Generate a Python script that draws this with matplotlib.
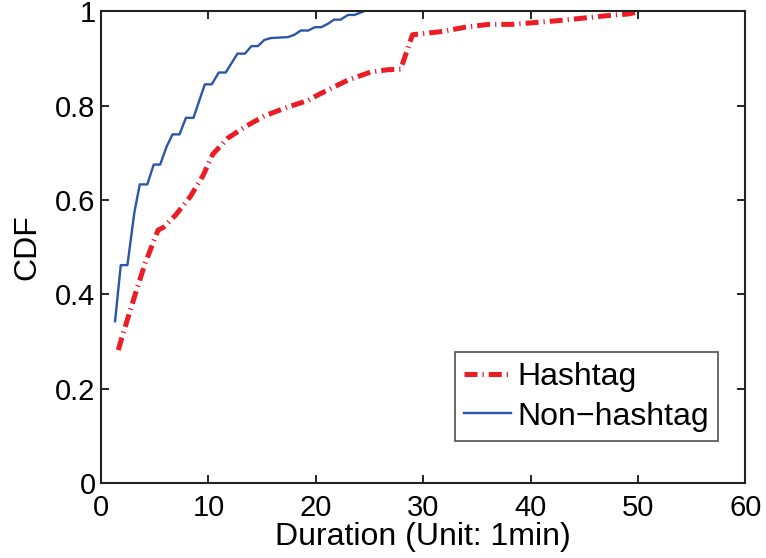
import matplotlib
matplotlib.use('Agg')
import matplotlib.pyplot as plt
from matplotlib.ticker import FuncFormatter

plt.rcParams['font.family'] = ['Liberation Sans', 'DejaVu Sans']

# Hashtag CDF
hash_x = [1.6, 1.9, 3.2, 4.1, 5.3, 5.8, 6.9, 8.3, 9.5, 10.4, 11.8, 13.4, 15.2, 17.4,
          19.3, 19.9, 21.1, 23.0, 25.1, 26.7, 27.9, 28.4, 29.0, 31.8, 33.9, 36.1,
          38.3, 40.5, 42.6, 44.8, 46.9, 49.1, 49.9]
hash_y = [0.282, 0.306, 0.402, 0.466, 0.536, 0.542, 0.567, 0.607, 0.652, 0.697, 0.731,
          0.755, 0.778, 0.797, 0.811, 0.819, 0.833, 0.854, 0.871, 0.876, 0.877, 0.910,
          0.95, 0.957, 0.966, 0.972, 0.972, 0.976, 0.98, 0.985, 0.99, 0.994, 0.998]

# Non-hashtag CDF
non_x = [1.3, 1.83, 2.45, 3.1, 3.6, 4.3, 4.9, 5.5, 6.1, 6.65, 7.3, 7.9, 8.6, 9.66,
         10.3, 10.96, 11.6, 12.7, 13.4, 14.0, 14.6, 15.2, 15.8, 17.4, 18.0, 18.6,
         19.3, 19.9, 20.5, 21.1, 21.7, 22.3, 23.0, 23.6, 24.5]
non_y = [0.343, 0.462, 0.462, 0.574, 0.633, 0.633, 0.675, 0.675, 0.713, 0.739, 0.739,
         0.774, 0.774, 0.845, 0.845, 0.870, 0.870, 0.910, 0.910, 0.926, 0.926, 0.939,
         0.943, 0.945, 0.95, 0.959, 0.959, 0.966, 0.966, 0.973, 0.982, 0.982, 0.992,
         0.992, 1.0]

fig = plt.figure(figsize=(7.66, 5.58), dpi=100)
ax = fig.add_axes([0.132, 0.134, 0.841, 0.846])

ax.plot(hash_x, hash_y, color='#ED1C24', lw=3.6, dashes=(2.6, 1.0, 0.25, 1.0),
        label='Hashtag')
ax.plot(non_x, non_y, color='#2B55A8', lw=1.7, label='Non\u2212hashtag')

ax.set_xlim(0, 60)
ax.set_ylim(0, 1)
ax.set_xticks(range(0, 61, 10))
ax.set_yticks([0, 0.2, 0.4, 0.6, 0.8, 1])
ax.yaxis.set_major_formatter(FuncFormatter(lambda v, p: '%g' % v))
ax.tick_params(direction='in', top=True, right=True, labelsize=21, length=6,
               width=1.2)
ax.tick_params(axis='x', pad=8)
ax.tick_params(axis='y', pad=4)
for s in ax.spines.values():
    s.set_linewidth(1.5)
    s.set_color('#222222')

ax.set_xlabel('Duration (Unit: 1min)', fontsize=23, labelpad=0)
ax.set_ylabel('CDF', fontsize=23, labelpad=9)

leg = ax.legend(loc='lower right', bbox_to_anchor=(0.958, 0.089), fontsize=23,
                fancybox=False, edgecolor='#222222', handlelength=1.45,
                handletextpad=0.2, borderpad=0.3, labelspacing=0.3,
                borderaxespad=0)
leg.get_frame().set_linewidth(1.2)

fig.savefig('out.png', dpi=100)
